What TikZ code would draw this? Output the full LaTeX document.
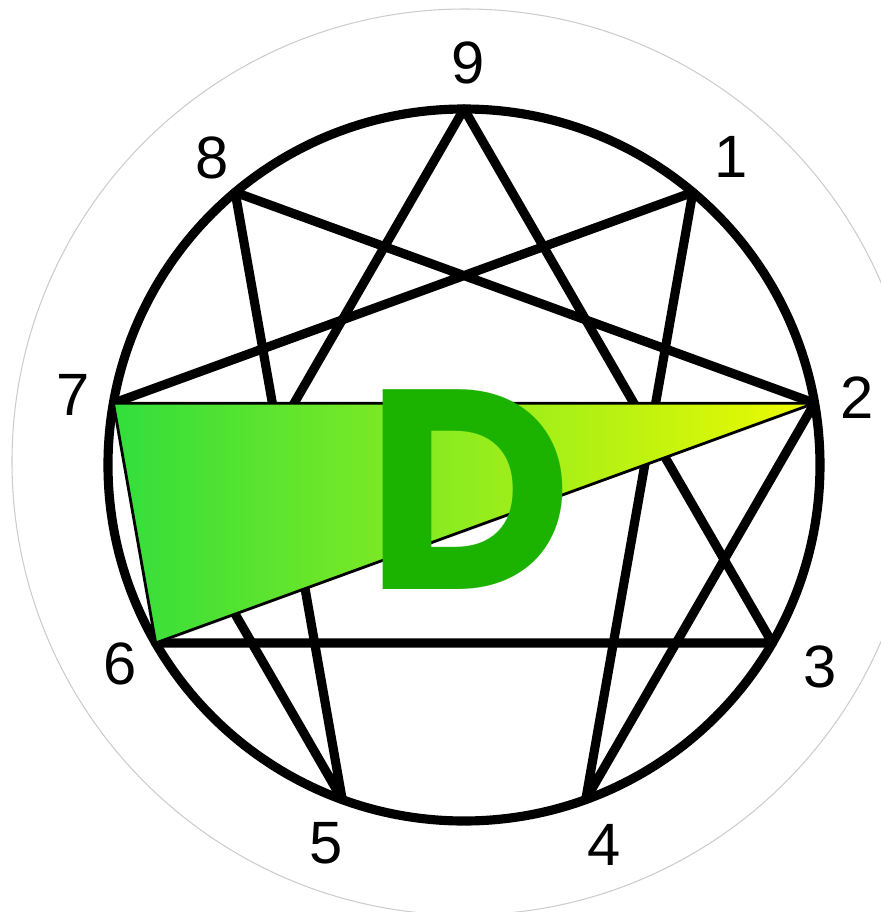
\documentclass[tikz,border=0pt]{standalone}
\usepackage{fontspec}
\setmainfont{Liberation Sans}
\newfontfamily\letterfont{Poppins}
\definecolor{leftgreen}{RGB}{50,222,60}
\definecolor{rightyellow}{RGB}{238,250,0}
\definecolor{letgreen}{RGB}{28,178,0}
\begin{document}
\begin{tikzpicture}[
    star/.style={line width=2.6pt, line join=round},
    numlabel/.style={font=\fontsize{17}{17}\selectfont, inner sep=0pt}
]
    \useasboundingbox (-4.64,-4.47) rectangle (4.17,4.65);

    % --- Outer ring and circle ---
    \draw[gray!40, line width=0.3pt] (0.01,0.03) circle (4.53);
    \draw[star] (0,0) circle (3.56);

    % --- Points on the circle ---
    \coordinate (p9) at (90:3.56);
    \coordinate (p1) at (50:3.56);
    \coordinate (p2) at (10:3.56);
    \coordinate (p3) at (-30:3.56);
    \coordinate (p4) at (-70:3.56);
    \coordinate (p5) at (-110:3.56);
    \coordinate (p6) at (-150:3.56);
    \coordinate (p7) at (170:3.56);
    \coordinate (p8) at (130:3.56);

    % --- Lines ---
    \draw[star] (p9) -- (p3) -- (p6) -- cycle;
    \draw[star] (p1) -- (p4) -- (p2) -- (p8) -- (p5) -- (p7) -- cycle;

    % --- Triangle 7-2-6 ---
    \fill[left color=leftgreen, right color=rightyellow] (p7) -- (p2) -- (p6) -- cycle;
    \draw[line width=0.8pt, line join=round] (p7) -- (p2) -- (p6) -- cycle;

    \node[text=letgreen, inner sep=0pt,
          font=\letterfont\bfseries\fontsize{81}{81}\selectfont] (dletter) at (0.05,-0.25) {D};

    % --- Numbers ---
    \node[numlabel] (n9) at (0.04, 4.02) {9};
    \node[numlabel] (n1) at (2.67, 3.08) {1};
    \node[numlabel] (n2) at (3.93, 0.67) {2};
    \node[numlabel] (n3) at (3.56, -2.02) {3};
    \node[numlabel] (n4) at (1.40, -3.80) {4};
    \node[numlabel] (n5) at (-1.38, -3.78) {5};
    \node[numlabel] (n6) at (-3.44, -1.99) {6};
    \node[numlabel] (n7) at (-3.91, 0.70) {7};
    \node[numlabel] (n8) at (-2.52, 3.07) {8};
\end{tikzpicture}
\end{document}
